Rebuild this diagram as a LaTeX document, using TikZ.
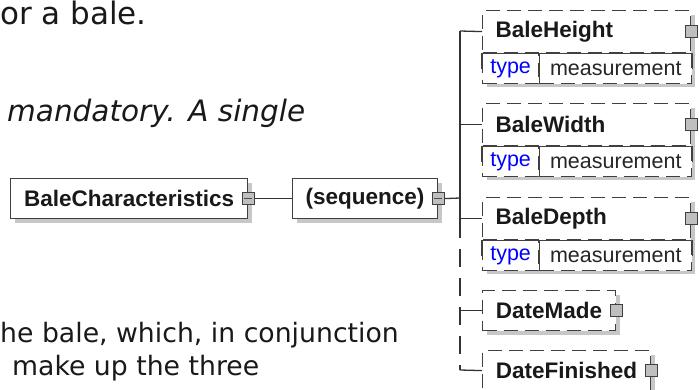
\documentclass[tikz,border=0pt]{standalone}
\usepackage{fontspec}
\setmainfont{DejaVu Sans}
\newfontfamily\diag{Liberation Sans}
\begin{document}
\begin{tikzpicture}[x=1pt,y=-1pt,
  prose/.style={anchor=base west, inner sep=0pt, font=\fontsize{26.7}{30}\selectfont, text=black!90},
  shadowrect/.style={fill=black!22, draw=none},
  elbox/.style={draw=black!75, line width=1.2pt, fill=white, inner sep=0pt, anchor=north west,
    font=\diag\bfseries\fontsize{22.5}{26}\selectfont, text=black!90},
  optbox/.style={elbox, dash pattern=on 14pt off 7pt},
  leftbox/.style={text width=#1, align=left},
  typecell/.style={draw=black!75, line width=1.2pt, fill=white, inner sep=0pt, anchor=north west,
    dash pattern=on 14pt off 7pt, font=\diag\fontsize{21.5}{24}\selectfont},
  btn/.style={draw=black!75, line width=1.1pt, fill=black!25, minimum size=12pt, inner sep=0pt},
  conn/.style={draw=black!80, line width=1.3pt},
  divider/.style={draw=black!75, line width=1.2pt}
]
\useasboundingbox (0,0) rectangle (699,390);

% prose text
\node[prose, font=\fontsize{31}{34}\selectfont] (t1) at (0,25) {or a bale.};
\node[prose, font=\fontsize{29.5}{33}\selectfont\itshape] (t2) at (7,122) {mandatory. A single};
\node[prose] (t3) at (0,342) {he bale, which, in conjunction};
\node[prose] (t4) at (12,375) {make up the three};

% shadows
\fill[shadowrect] (15,183) rectangle (252,223);
\fill[shadowrect] (297,183) rectangle (442,223);
\fill[shadowrect] (487,15) rectangle (695,87);
\fill[shadowrect] (487,108) rectangle (695,180);
\fill[shadowrect] (487,202) rectangle (695,274);
\fill[shadowrect] (487,295) rectangle (620,335);
\fill[shadowrect] (487,355) rectangle (655,395);

% root and sequence
\node[elbox, minimum width=237pt, minimum height=40pt] (bc) at (10,178) {BaleCharacteristics};
\node[btn] (bcb) at (bc.east) {};
\draw[line width=1pt, black!70] ([xshift=-4pt]bcb.center) -- ([xshift=4pt]bcb.center);
\node[elbox, minimum width=145pt, minimum height=40pt] (seq) at (292,178) {(sequence)};
\node[btn] (seqb) at (seq.east) {};
\draw[line width=1pt, black!70] ([xshift=-4pt]seqb.center) -- ([xshift=4pt]seqb.center);

% elements with type rows
\foreach \nm/\lbl/\yy in {bh/BaleHeight/10, bw/BaleWidth/103, bd/BaleDepth/197}{
  \node[optbox, leftbox=182pt, minimum width=208pt, minimum height=42pt] (\nm) at (482,\yy) {\lbl};
  \node[typecell, minimum width=56pt, minimum height=30pt, text=blue] (\nm t) at (\nm.south west) {type};
  \node[typecell, minimum width=152pt, minimum height=30pt, text=black!85] (\nm m) at (\nm t.north east) {measurement};
  \draw[divider] (\nm.south west) -- (\nm.south east);
  \draw[divider] (\nm t.north east) -- (\nm t.south east);
  \draw[divider] (\nm m.north east) -- ([yshift=-16pt]\nm m.north east);
  \draw[divider] (\nm t.north west) -- ([yshift=-16pt]\nm t.north west);
  \node[btn] (\nm b) at (\nm.east) {};
}
\node[optbox, minimum width=133pt, minimum height=40pt] (dm) at (482,290) {DateMade};
\node[btn] (dmb) at (dm.east) {};
\node[optbox, minimum width=168pt, minimum height=40pt] (df) at (482,350) {DateFinished};
\node[btn] (dfb) at (df.east) {};

% connectors
\coordinate (jn) at (460,198);
\coordinate (vtop) at (460,31);
\coordinate (vmid) at (460,220);
\coordinate (vbot) at (460,370);
\draw[conn] (bcb.east) -- (seq.west);
\draw[conn] (seqb.east) -- (jn);
\draw[conn] (vtop) -- (vmid);
\draw[conn, dash pattern=on 18pt off 11pt] (vmid) -- (vbot);
\draw[conn] (vtop) -- (bh.west);
\draw[conn] (bw.west -| jn) -- (bw.west);
\draw[conn] (bd.west -| jn) -- (bd.west);
\draw[conn] (dm.west -| jn) -- (dm.west);
\draw[conn] (vbot) -- (df.west);
\end{tikzpicture}
\end{document}
